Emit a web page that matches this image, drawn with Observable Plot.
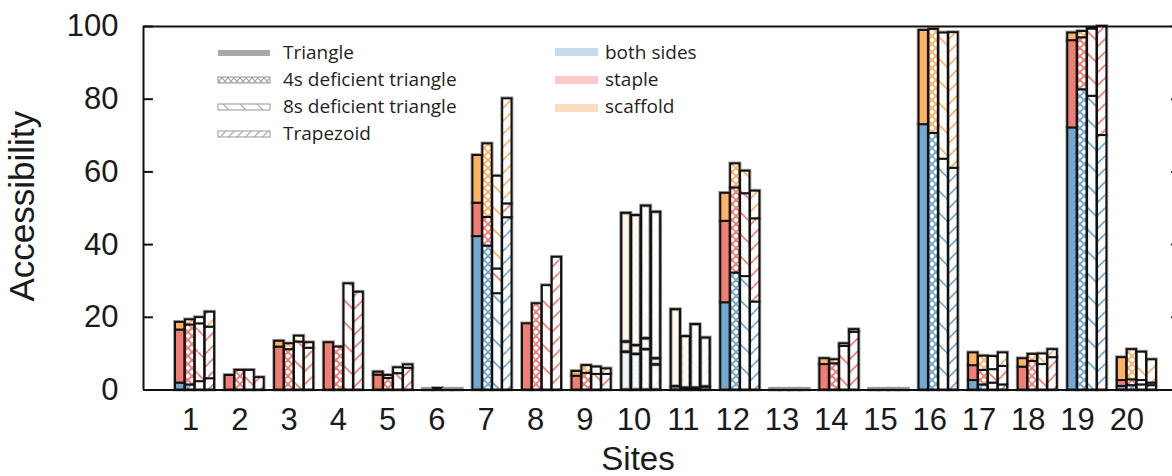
<!DOCTYPE html>
<html><head><meta charset="utf-8">
<script src="https://cdn.jsdelivr.net/npm/d3@7"></script>
<script src="https://cdn.jsdelivr.net/npm/@observablehq/plot@0.6"></script>
<style>
html,body{margin:0;padding:0;background:#fff;overflow:hidden;}
#chart svg{display:block;}
</style></head><body><div id="chart"></div>
<script>
// ---------- data ----------
const sites = [1,2,3,4,5,6,7,8,9,10,11,12,13,14,15,16,17,18,19,20];
const types = ["Triangle", "4s deficient triangle", "8s deficient triangle", "Trapezoid"];
const parts = ["both sides", "staple", "scaffold"];
const yTicks = [0, 20, 40, 60, 80, 100];
const fadedSites = [10, 11];

const triangleBoth     = [1.9, 0, 0, 0, 0, 0, 42.2, 0, 0, 10.4, 0, 24.0, 0, 0, 0, 73.0, 2.6, 0, 72.1, 1.0];
const triangleStaple   = [14.6, 4.0, 11.8, 13.0, 4.1, 0.2, 9.2, 18.2, 3.8, 2.8, 0.9, 22.4, 0.2, 7.0, 0.2, 0, 4.1, 6.3, 24.0, 1.6];
const triangleScaffold = [2.1, 0, 1.6, 0, 0.8, 0, 13.1, 0, 1.3, 35.4, 21.2, 7.7, 0, 1.6, 0, 25.9, 3.5, 2.3, 2.1, 6.3];

const def4sBoth     = [1.4, 0, 0, 0, 0, 0, 39.6, 0, 0, 9.8, 0, 32.2, 0, 0, 0, 70.6, 1.4, 0, 82.6, 1.2];
const def4sStaple   = [16.5, 5.4, 11.1, 11.8, 3.2, 0.4, 7.9, 23.7, 4.6, 2.4, 0.5, 23.4, 0.2, 7.2, 0.2, 0, 4.0, 7.9, 14.3, 1.6];
const def4sScaffold = [1.4, 0, 1.6, 0, 0.8, 0, 20.2, 0, 2.1, 35.8, 14.2, 6.6, 0, 1.1, 0, 28.6, 3.9, 1.9, 1.7, 8.3];

const def8sBoth     = [2.3, 0, 0, 0, 0, 0, 26.5, 0, 0, 11.1, 0, 31.2, 0, 0, 0, 63.5, 1.9, 0, 80.8, 1.4];
const def8sStaple   = [15.9, 5.4, 13.2, 29.2, 4.5, 0.2, 6.8, 28.7, 4.3, 3.0, 0.5, 22.8, 0.2, 12.0, 0.2, 0, 3.7, 7.0, 18.5, 1.2];
const def8sScaffold = [1.7, 0, 1.6, 0, 1.6, 0, 25.5, 0, 2.0, 36.5, 17.5, 6.2, 0, 0.7, 0, 34.7, 3.6, 2.9, 0.3, 7.8];

const trapezoidBoth     = [3.1, 0, 0, 0, 0, 0, 47.4, 0, 0, 6.9, 0, 24.2, 0, 0, 0, 61.0, 1.4, 0, 70.0, 1.2];
const trapezoidStaple   = [14.2, 3.4, 11.5, 26.9, 6.0, 0.2, 3.8, 36.5, 4.3, 1.7, 0.8, 22.9, 0.2, 15.9, 0.2, 0, 5.1, 8.9, 30.0, 0.7];
const trapezoidScaffold = [4.1, 0, 1.5, 0, 0.9, 0, 28.9, 0, 1.5, 40.3, 13.5, 7.6, 0, 0.7, 0, 37.3, 3.7, 2.2, 0, 6.4];

// ---------- styling ----------
const partColors = ["#73a9d0", "#f17e75", "#fdb365"];
const legendColors = ["#c6dcec", "#f9cac7", "#fcdcbf"];
const typePattern = [null, "cross", "back", "slash"];
const patternSize = {cross: 8, back: 22, slash: 13};
const patternWidth = {cross: 1.9, back: 1.7, slash: 1.7};
const barOffset = [-0.3, -0.1, 0.1, 0.3];
const halfWidth = 0.094;

const series = [
  [triangleBoth, triangleStaple, triangleScaffold],
  [def4sBoth, def4sStaple, def4sScaffold],
  [def8sBoth, def8sStaple, def8sScaffold],
  [trapezoidBoth, trapezoidStaple, trapezoidScaffold]
];

const rows = [];
types.forEach((t, ti) => {
  sites.forEach((s, si) => {
    let acc = 0;
    parts.forEach((p, pi) => {
      const v = series[ti][pi][si];
      if (v > 0) {
        rows.push({
          site: s, type: t, part: p,
          x1: s + barOffset[ti] - halfWidth,
          x2: s + barOffset[ti] + halfWidth,
          y1: acc, y2: acc + v,
          fill: typePattern[ti] ? `url(#pat-${typePattern[ti]}-${pi})` : partColors[pi],
          edge: v < 0.3 ? "#8a8a8a" : "#111",
          op: fadedSites.includes(s) ? 0.11 : 1
        });
        acc += v;
      }
    });
  });
});

const FONT = "'Liberation Sans', Arial, Helvetica, sans-serif";
const INK = "#1a1a1a";

const plot = Plot.plot({
  width: 1172,
  height: 476,
  marginLeft: 143,
  marginRight: 0,
  marginTop: 26,
  marginBottom: 86.5,
  x: {domain: [-0.04, 20.9], range: [143, 1181], axis: null},
  y: {domain: [0, 100], range: [389.5, 26], axis: null},
  color: {type: "identity"},
  opacity: {type: "identity"},
  style: {fontFamily: FONT, background: "white", color: INK},
  marks: [
    Plot.rect(rows, {x1: "x1", x2: "x2", y1: "y1", y2: "y2", fill: "none", stroke: "#a0a0a0", strokeWidth: 3.8}),
    Plot.rect(rows, {x1: "x1", x2: "x2", y1: "y1", y2: "y2", fill: "fill", fillOpacity: "op", stroke: "edge", strokeWidth: 2}),
    Plot.ruleY([0, 100], {x1: -0.04, x2: 20.9, stroke: "#111", strokeWidth: 2}),
    Plot.ruleX([-0.04, 20.9], {y1: 0, y2: 100, stroke: "#111", strokeWidth: 2}),
    Plot.ruleY(yTicks, {x1: -0.04, x2: 0.16, stroke: "#111", strokeWidth: 2}),
    Plot.ruleY(yTicks, {x1: 20.7, x2: 20.9, stroke: "#111", strokeWidth: 2}),
    Plot.axisY(yTicks, {tickSize: 0, tickPadding: 25, fontSize: 31, label: null}),
    // site tick labels (printed slightly left of the bar groups, as in the original)
    Plot.text(sites, {x: d => d - 0.091 - 0.00585 * (d - 1), frameAnchor: "bottom", lineAnchor: "top", dy: 18, fontSize: 31, fill: INK}),
    Plot.text(["Accessibility"], {frameAnchor: "left", textAnchor: "middle", lineAnchor: "middle", rotate: -90, dx: -121, dy: -2, fontSize: 35, fill: INK}),
    Plot.text(["Sites"], {frameAnchor: "bottom", textAnchor: "middle", lineAnchor: "top", dx: -20, dy: 57, fontSize: 33, fill: INK})
  ]
});

// ---------- hatch patterns ----------
const svg = d3.select(plot);
const defs = svg.insert("defs", ":first-child");
function addPattern(id, kind, color, size, sw) {
  const p = defs.append("pattern").attr("id", id)
    .attr("patternUnits", "userSpaceOnUse").attr("width", size).attr("height", size);
  p.append("rect").attr("width", size).attr("height", size).attr("fill", "white");
  const lines = [];
  if (kind === "slash" || kind === "cross") for (const k of [-1, 0, 1]) lines.push([k * size, size, k * size + size, 0]);
  if (kind === "back" || kind === "cross") for (const k of [-1, 0, 1]) lines.push([k * size, 0, k * size + size, size]);
  for (const [a, b, c, d] of lines) {
    p.append("line").attr("x1", a).attr("y1", b).attr("x2", c).attr("y2", d)
      .attr("stroke", color).attr("stroke-width", sw);
  }
}
["cross", "back", "slash"].forEach(kind => {
  partColors.forEach((c, pi) => addPattern(`pat-${kind}-${pi}`, kind, c, patternSize[kind], patternWidth[kind]));
});
addPattern("leg-cross", "cross", "#a8a8a8", 6, 1.2);
addPattern("leg-back", "back", "#a8a8a8", 17, 1.2);
addPattern("leg-slash", "slash", "#a8a8a8", 8.5, 1.2);

// ---------- legend ----------
const LFONT = "'Open Sans', 'Noto Sans', sans-serif";
const leg = svg.append("g").attr("font-family", LFONT).attr("font-size", 19)
  .attr("fill", "#231f20").attr("text-anchor", "start");
const typeSwatch = ["#a8a8a8", "url(#leg-cross)", "url(#leg-back)", "url(#leg-slash)"];
types.forEach((t, i) => {
  const yb = 59 + i * 27;
  leg.append("rect").attr("x", 218).attr("y", yb - 9).attr("width", 52).attr("height", 6)
    .attr("fill", typeSwatch[i]).attr("stroke", i ? "#a8a8a8" : "none").attr("stroke-width", 1.2);
  leg.append("text").attr("x", 283).attr("y", yb).attr("text-anchor", "start").text(t);
});
parts.forEach((p, i) => {
  const yb = 59 + i * 27;
  leg.append("rect").attr("x", 555).attr("y", yb - 11 + i).attr("width", 43).attr("height", 8)
    .attr("fill", legendColors[i]);
  leg.append("text").attr("x", 605).attr("y", yb).attr("text-anchor", "start").text(p);
});

document.getElementById("chart").appendChild(plot);
</script>
</body></html>
